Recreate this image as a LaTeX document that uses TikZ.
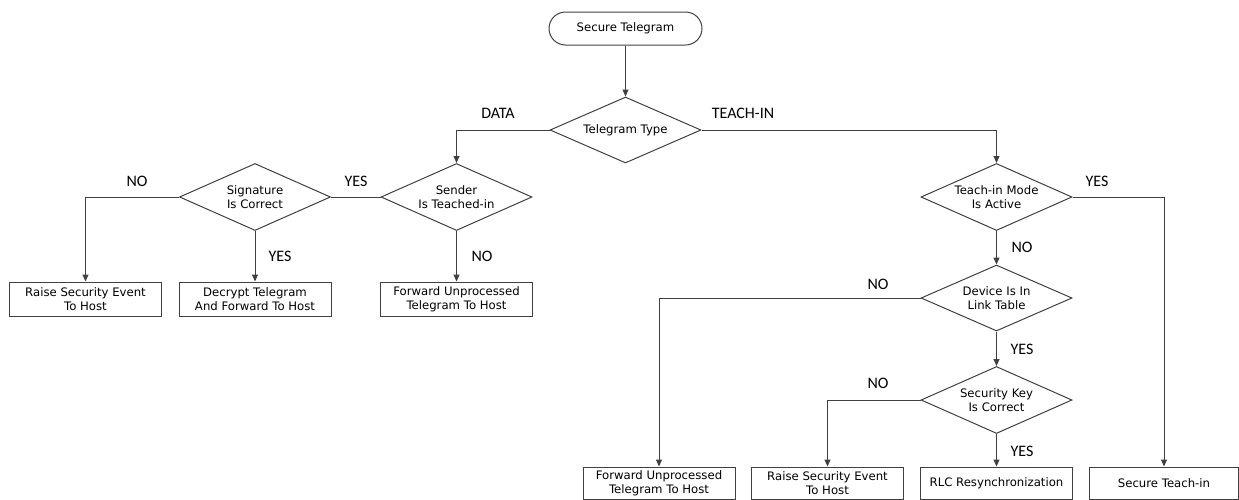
\documentclass[tikz,border=0pt]{standalone}
\usepackage{fontspec}
\setmainfont{DejaVu Sans}
\newfontfamily\lblfont{Carlito}
\usetikzlibrary{shapes.geometric,arrows.meta}

\begin{document}
\begin{tikzpicture}[x=1pt,y=-1pt,line width=1pt,
    every node/.style={font=\fontsize{11.7}{14}\selectfont,align=center},
    line/.style={draw=black!75},
    arr/.style={line,-{Triangle[length=7pt,width=6pt]}},
    startbox/.style={draw=black!75,rectangle,rounded corners=16.5pt,minimum width=153pt,minimum height=33pt,inner sep=0pt},
    decision/.style={draw=black!75,diamond,aspect=2.2,minimum width=151pt,minimum height=67pt,inner sep=0pt},
    actionbox/.style={draw=black!75,rectangle,minimum width=152pt,minimum height=34pt,inner sep=0pt},
    lastbox/.style={actionbox,minimum height=32pt},
    lbl/.style={font=\lblfont\fontsize{16}{19}\selectfont,inner sep=0pt}]
  \useasboundingbox (0,0) rectangle (1239,499);

  % steps
  \node[startbox] (start) at (625.5,28.5) {Secure Telegram};
  \node[decision,minimum height=66pt] (type) at (625.5,130) {Telegram Type};
  \node[decision] (sender) at (456.5,197) {Sender\\Is Teached-in};
  \node[decision] (sig) at (255,197) {Signature\\Is Correct};
  \node[decision] (teach) at (996.5,197) {Teach-in Mode\\Is Active};
  \node[decision,minimum height=66pt] (device) at (996.5,298) {Device Is In\\Link Table};
  \node[decision] (key) at (996.5,400) {Security Key\\Is Correct};

  \node[actionbox] (raise1) at (85.5,299) {Raise Security Event\\To Host};
  \node[actionbox] (decrypt) at (255,299) {Decrypt Telegram\\And Forward To Host};
  \node[actionbox] (fwd1) at (456.5,299) {Forward Unprocessed\\Telegram To Host};
  \node[lastbox] (fwd2) at (659,483) {Forward Unprocessed\\Telegram To Host};
  \node[lastbox] (raise2) at (827.5,483) {Raise Security Event\\To Host};
  \node[lastbox] (rlc) at (996.5,483) {RLC Resynchronization};
  \node[lastbox,minimum width=149pt] (secure) at (1164,483) {Secure Teach-in};

  % flow
  \draw[arr] (start) -- (type);
  \draw[arr] (type.west) -| (sender.north);
  \draw[arr] (type.east) -| (teach.north);
  \draw[line] (sender.west) -- (sig.east);
  \draw[arr] (sig.west) -| (raise1.north);
  \draw[arr] (sig) -- (decrypt);
  \draw[arr] (sender) -- (fwd1);
  \draw[arr] (teach.east) -| (secure.north);
  \draw[arr] (teach) -- (device);
  \draw[arr] (device.west) -| (fwd2.north);
  \draw[arr] (device) -- (key);
  \draw[arr] (key.west) -| (raise2.north);
  \draw[arr] (key) -- (rlc);

  % branch labels
  \node[lbl] (data) at (498,113) {DATA};
  \node[lbl] (teachin) at (743,113) {TEACH-IN};
  \node[lbl] (signo) at (137,181) {NO};
  \node[lbl] (senderyes) at (356,181) {YES};
  \node[lbl] (sigyes) at (280,256) {YES};
  \node[lbl] (senderno) at (482,256) {NO};
  \node[lbl] (teachyes) at (1097,181) {YES};
  \node[lbl] (teachno) at (1022,247) {NO};
  \node[lbl] (deviceno) at (878,284) {NO};
  \node[lbl] (deviceyes) at (1022,349) {YES};
  \node[lbl] (keyno) at (878,383) {NO};
  \node[lbl] (keyyes) at (1022,451) {YES};
\end{tikzpicture}
\end{document}
